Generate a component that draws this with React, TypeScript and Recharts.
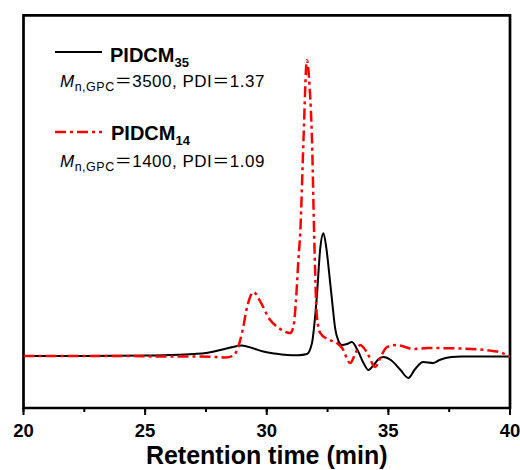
import { LineChart, Line, XAxis, YAxis, ReferenceArea } from 'recharts'

const FONT = "'Liberation Sans', Arial, 'Noto Sans CJK SC', sans-serif"

const xTicks = [20, 22.5, 25, 27.5, 30, 32.5, 35, 37.5, 40]
const xLabels = [20, 25, 30, 35, 40]

// PIDCM35 (black, solid)
const pidcm35Time = [
  20, 22, 24, 25, 26, 27, 27.5, 28, 28.5, 28.98, 29.4, 29.86, 30.3, 30.83, 31.3, 31.65,
  31.86, 31.95, 32.06, 32.2, 32.33, 32.45, 32.6, 32.7, 32.81, 32.95, 33.09, 33.3, 33.5,
  33.75, 34.0, 34.18, 34.4, 34.6, 34.8, 35.1, 35.5, 35.82, 36.1, 36.43, 36.84, 37.1, 37.6,
  38, 40,
]
const pidcm35Signal = [
  0, 0, 0.3, 0.5, 1, 2, 3, 5.5, 8.5, 10.5, 8, 4.5, 2.5, 1, 0.8, 2,
  13, 30, 60, 108, 123, 108, 75, 52, 28, 15, 11, 12, 14,
  5, -8, -14, -9, -3, -1, -4, -14, -22, -13, -6, -7, -4, -1,
  -0.5, -0.5,
]

// PIDCM14 (red, dash-dot)
const pidcm14Time = [
  20, 22, 24, 26, 27, 28, 28.3, 28.6, 28.78, 29.0, 29.2, 29.46, 29.7, 30.14, 30.5, 30.96,
  31.1, 31.2, 31.3, 31.38, 31.51, 31.65, 31.76, 31.86, 31.95, 32.06, 32.2, 32.5, 32.88,
  33.1, 33.43, 33.65, 33.84, 34.11, 34.46, 34.7, 34.94, 35.35, 36.03, 36.6, 38, 39.3, 39.7,
  40,
]
const pidcm14Signal = [
  0, 0, 0, -0.5, -0.5, -1, -1.5, 0, 6, 25, 50, 64, 56, 36, 28, 23,
  30, 55, 96, 125, 216, 296, 270, 216, 120, 40, 23, 17, 13,
  8, -7, 3, 11, 4, -11, 0, 9, 11, 7, 8, 7.5, 5, 3,
  -1,
]

const black = pidcm35Time.map((t, i) => ({ t, v: pidcm35Signal[i] }))
const red = pidcm14Time.map((t, i) => ({ t, v: pidcm14Signal[i] }))

// minor tick comes from tickLine (4px), majors get extended here
function TimeTick(props: any) {
  const { x, y, payload } = props
  if (!xLabels.includes(payload.value)) return <g />
  return (
    <g>
      <line x1={x} x2={x} y1={y - 4} y2={y + 3} stroke="#000" strokeWidth={2} />
      <text x={x} y={y + 25} textAnchor="middle" fontFamily={FONT} fontWeight="bold" fontSize={18.5} fill="#000">
        {payload.value}
      </text>
    </g>
  )
}

function LegendBlock() {
  return (
    <svg
      width={300}
      height={180}
      style={{ position: 'absolute', left: 0, top: 0, pointerEvents: 'none' }}
      fontFamily={FONT}
    >
      <line x1={55} x2={102} y1={52} y2={52} stroke="#000" strokeWidth={2.2} />
      <text x={110} y={61.5} fontWeight="bold" fontSize={20}>
        PIDCM<tspan fontSize={13} dy={5}>35</tspan>
      </text>
      <text x={60} y={87} fontSize={17} letterSpacing={0.5}>
        <tspan fontStyle="italic">M</tspan>
        <tspan fontSize={12.5} dy={4}>n,GPC</tspan>
        <tspan dy={-4}>＝3500, PDI＝1.37</tspan>
      </text>

      <line x1={55} x2={102} y1={132} y2={132} stroke="#ff0000" strokeWidth={2.5} strokeDasharray="11 4 3 4" />
      <text x={111} y={140} fontWeight="bold" fontSize={20}>
        PIDCM<tspan fontSize={13} dy={5}>14</tspan>
      </text>
      <text x={60} y={167} fontSize={17} letterSpacing={0.5}>
        <tspan fontStyle="italic">M</tspan>
        <tspan fontSize={12.5} dy={4}>n,GPC</tspan>
        <tspan dy={-4}>＝1400, PDI＝1.09</tspan>
      </text>
    </svg>
  )
}

export default function App() {
  return (
    <div style={{ position: 'absolute', left: 0, top: 0, width: 520, height: 470, background: '#fff' }}>
      <LineChart width={520} height={470} margin={{ top: 15.3, right: 10, bottom: 0, left: 23.5 }}>
        <XAxis
          type="number"
          dataKey="t"
          domain={[20, 40]}
          ticks={xTicks}
          interval={0}
          allowDataOverflow
          axisLine={false}
          tickLine={{ stroke: '#000', strokeWidth: 2 }}
          tickSize={4}
          tickMargin={0}
          height={62}
          tick={<TimeTick />}
          label={{
            value: 'Retention time (min)',
            position: 'insideBottom',
            offset: 6,
            style: { fontFamily: FONT, fontWeight: 'bold', fontSize: 25, fill: '#000' },
          }}
        />
        <YAxis type="number" domain={[-52, 341]} hide allowDataOverflow />
        <ReferenceArea
          x1={20}
          x2={40}
          y1={-52}
          y2={341}
          fill="none"
          fillOpacity={0}
          stroke="#000"
          strokeWidth={2.7}
          ifOverflow="visible"
        />
        <Line
          data={black}
          dataKey="v"
          type="monotone"
          stroke="#000"
          strokeWidth={2}
          dot={false}
          isAnimationActive={false}
        />
        <Line
          data={red}
          dataKey="v"
          type="monotone"
          stroke="#ff0000"
          strokeWidth={2.5}
          strokeDasharray="11 4 3 4"
          dot={false}
          isAnimationActive={false}
        />
      </LineChart>
      <LegendBlock />
    </div>
  )
}
